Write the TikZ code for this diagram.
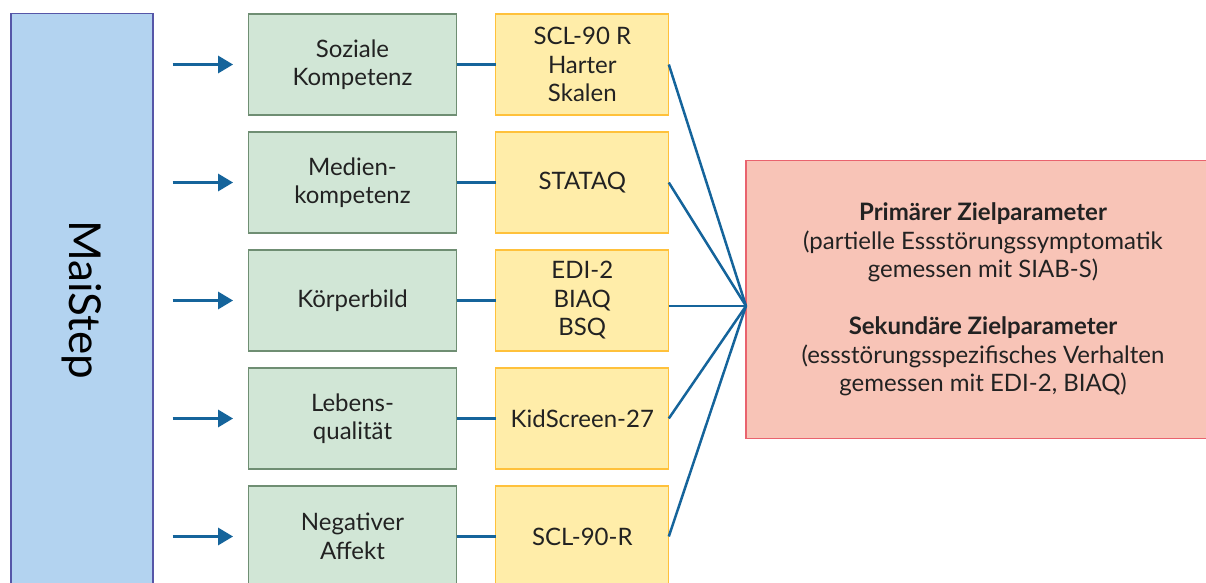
\documentclass[tikz,border=0pt]{standalone}
\usepackage{fontspec}
\setmainfont{Lato}
\usetikzlibrary{arrows.meta}
\definecolor{bluefill}{HTML}{B3D3F0}
\definecolor{blueline}{HTML}{5656A8}
\definecolor{greenfill}{HTML}{D1E6D6}
\definecolor{greenline}{HTML}{6F8E73}
\definecolor{yellowfill}{HTML}{FFEDA9}
\definecolor{yellowline}{HTML}{FFC13B}
\definecolor{redfill}{HTML}{F8C4B7}
\definecolor{redline}{HTML}{E9636E}
\definecolor{conn}{HTML}{15649B}
\definecolor{txt}{HTML}{222222}
\begin{document}
\begin{tikzpicture}[x=0.5pt,y=-0.5pt,
  every node/.style={font=\fontsize{12}{14.25}\selectfont, text=txt, align=center, inner sep=0pt, outer sep=0pt},
  factor/.style={draw=greenline, fill=greenfill, line width=0.6pt, minimum width=104pt, minimum height=50.5pt},
  instr/.style={draw=yellowline, fill=yellowfill, line width=0.6pt, minimum width=86.5pt, minimum height=50.5pt},
  arr/.style={draw=conn, line width=1.5pt, -{Triangle[length=7.5pt,width=8.5pt]}},
  link/.style={draw=conn, line width=1.25pt}]
\useasboundingbox (0,0) rectangle (1206,583);
\clip (0,0) rectangle (1206,583);
\node[draw=blueline, fill=bluefill, line width=0.6pt, minimum width=71pt, minimum height=286pt,
  font=\fontsize{22}{26}\selectfont, text=black] (mai) at (82,299.5) {\rotatebox{-90}{MaiStep}};
\node[factor] (g1) at (352.5,64.5) {Soziale\\Kompetenz};
\node[factor] (g2) at (352.5,182.5) {Medien-\\kompetenz};
\node[factor] (g3) at (352.5,300.5) {Körperbild};
\node[factor] (g4) at (352.5,418.5) {Lebens-\\qualität};
\node[factor] (g5) at (352.5,536.5) {Negativer\\Affekt};
\node[instr] (y1) at (582.3,64.5) {SCL-90 R\\Harter\\Skalen};
\node[instr] (y2) at (582.3,182.5) {STATAQ};
\node[instr] (y3) at (582.3,300.5) {EDI-2\\BIAQ\\BSQ};
\node[instr] (y4) at (582.3,418.5) {KidScreen-27};
\node[instr] (y5) at (582.3,536.5) {SCL-90-R};
\node[draw=redline, fill=redfill, line width=0.6pt, minimum width=237pt, minimum height=139pt] (ziel) at (983,299.5)
  {\textbf{Primärer Zielparameter}\\(partielle Essstörungssymptomatik\\gemessen mit SIAB-S)\\[14.25pt]
   \textbf{Sekundäre Zielparameter}\\(essstörungsspezifisches Verhalten\\gemessen mit EDI-2, BIAQ)};
\coordinate (conv) at (746,306);
\foreach \i in {1,...,5}{
  \draw[arr] ([xshift=-38pt]g\i.west) -- ([xshift=-7.7pt]g\i.west);
  \draw[link] (g\i.east) -- (y\i.west);
}
\draw[link] (y1.east) -- (conv);
\draw[link] (y2.east) -- (conv);
\draw[link] (y3.east |- conv) -- (conv);
\draw[link] (y4.east) -- (conv);
\draw[link] (y5.east) -- (conv);
\end{tikzpicture}
\end{document}
